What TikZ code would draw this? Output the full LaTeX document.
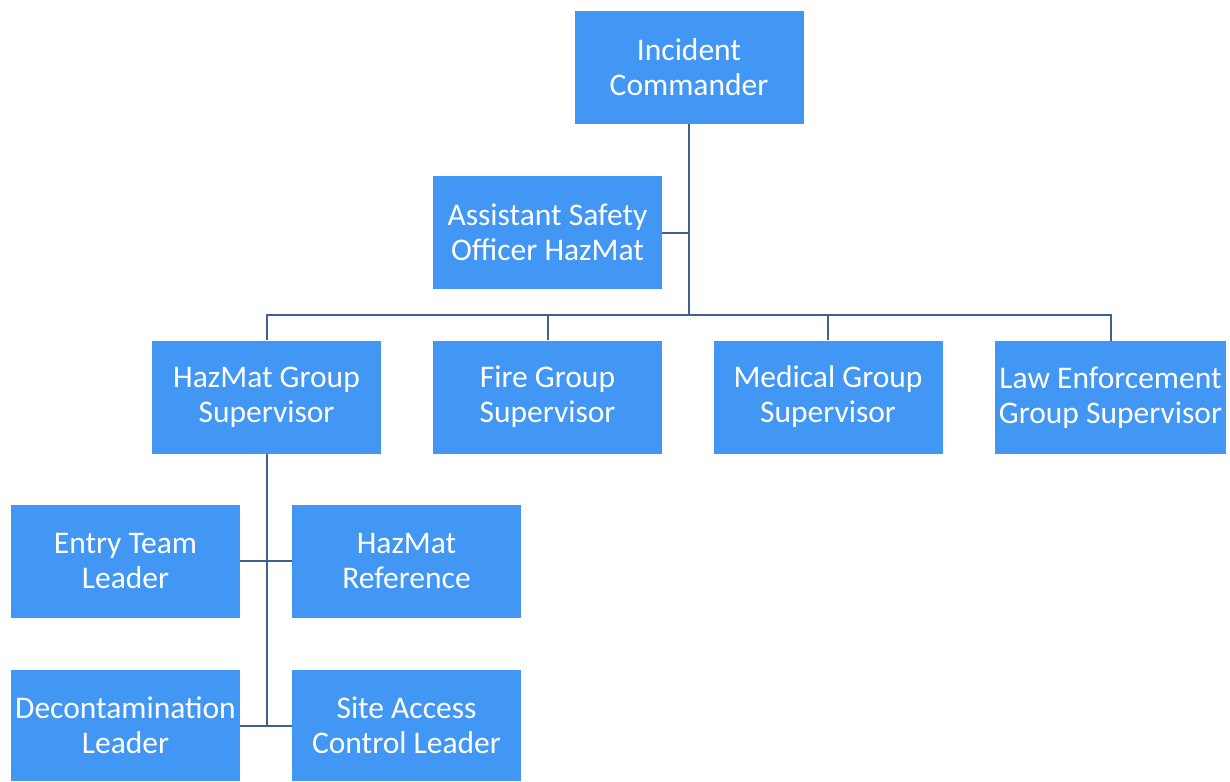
\documentclass[tikz,border=0pt]{standalone}
\usepackage{fontspec}
\setmainfont{Carlito}
\definecolor{boxblue}{HTML}{4296F4}
\definecolor{linec}{HTML}{40608F}
\begin{document}
\begin{tikzpicture}[x=1pt,y=-1pt,
  box/.style={fill=boxblue, draw=none, minimum width=229pt, minimum height=113pt, inner sep=0pt, align=center, text=white, font=\fontsize{31.5}{35}\selectfont},
  conn/.style={draw=linec, line width=2pt}]
\useasboundingbox (0,0) rectangle (1230,781);
\fill[white] (0,0) rectangle (1230,781);
\node[box] (ic) at (689,67.5) {Incident\\Commander};
\node[box] (aso) at (547.5,232.5) {Assistant Safety\\Officer HazMat};
\node[box] (hgs) at (266.5,397) {HazMat Group\\Supervisor};
\node[box] (fgs) at (547.5,397) {Fire Group\\Supervisor};
\node[box] (mgs) at (828,397) {Medical Group\\Supervisor};
\node[box, minimum width=231pt] (lgs) at (1110.5,397.5) {Law Enforcement\\Group Supervisor};
\node[box] (etl) at (125.5,561) {Entry Team\\Leader};
\node[box] (hr) at (406.5,561) {HazMat\\Reference};
\node[box, minimum height=111pt] (dl) at (125.5,725.5) {Decontamination\\Leader};
\node[box, minimum height=111pt] (sacl) at (406.5,725.5) {Site Access\\Control Leader};
\coordinate (j1) at (689,315);
\coordinate (t2) at (266.5,725.5);
\draw[conn] (ic.south) -- (j1);
\draw[conn] (aso.east) -- (aso.east -| ic.south);
\draw[conn] (hgs.north) |- (j1) -| (lgs.north);
\draw[conn] (fgs.north) -- (fgs.north |- j1);
\draw[conn] (mgs.north) -- (mgs.north |- j1);
\draw[conn] (hgs.south) -- (t2);
\draw[conn] (etl.east) -- (hr.west);
\draw[conn] (dl.east) -- (sacl.west);
\end{tikzpicture}
\end{document}
